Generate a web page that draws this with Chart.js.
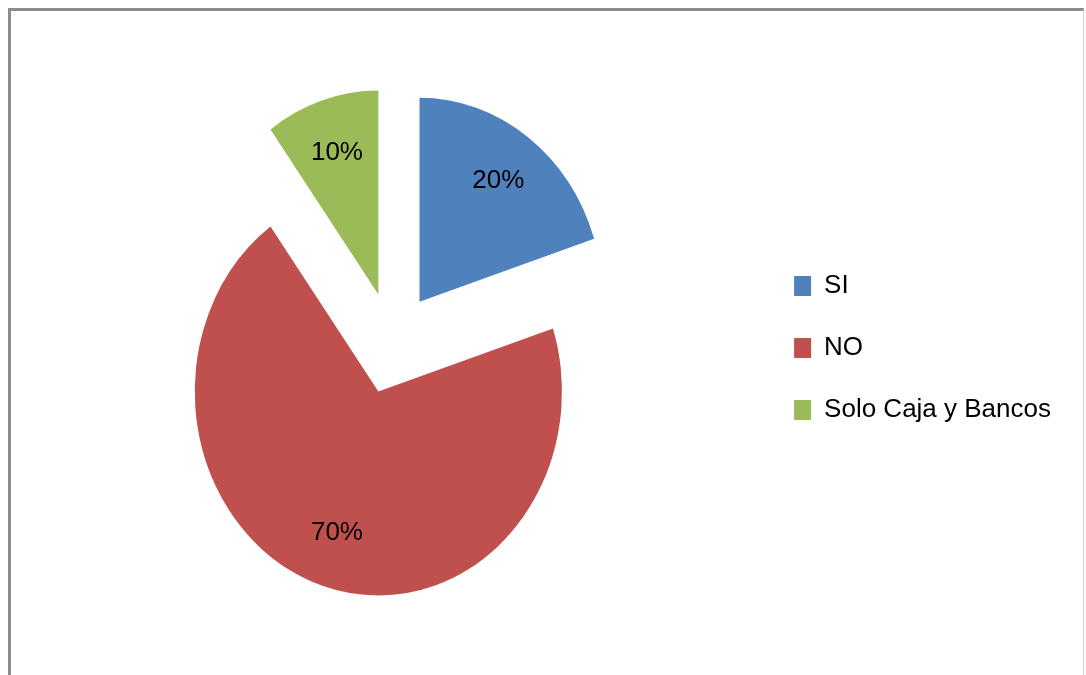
<!DOCTYPE html>
<html>
<head>
<meta charset="utf-8">
<script src="https://cdn.jsdelivr.net/npm/chart.js@4.4.1/dist/chart.umd.min.js"></script>
<style>
    html, body { margin: 0; padding: 0; background: #fff; }
    #wrap { position: relative; width: 1086px; height: 675px; overflow: hidden; }
    #frame {
        position: absolute; left: 8px; top: 8px; width: 1076px; height: 700px;
        border-left: 3px solid #8c8c8c; border-top: 3px solid #8c8c8c;
        border-right: 1px solid #cfcfcf; box-sizing: border-box;
    }
    #chart { position: absolute; left: 0; top: 0; }
</style>
</head>
<body>
<div id="wrap">
    <div id="frame"></div>
    <canvas id="chart" width="1086" height="675"></canvas>
</div>
<script>
const categories = ['SI', 'NO', 'Solo Caja y Bancos'];
const percentages = [20, 70, 10];
const sliceColors = ['#4f81bd', '#c0504d', '#9bbb59'];

// distance each slice is pulled away from the centre (px)
const explode = 51;
// the original picture is squeezed sideways a little
const squeezeX = 0.9;

// Chart.js' own offset also grows the big slice, so move whole arcs instead
const explodeSlices = {
    id: 'explodeSlices',
    beforeDatasetsDraw(chart) {
        chart.getDatasetMeta(0).data.forEach(arc => {
            if (arc._exploded) return;
            arc._exploded = true;
            const baseDraw = arc.draw;
            arc.draw = function (ctx, area) {
                const mid = (this.startAngle + this.endAngle) / 2;
                ctx.save();
                ctx.translate(this.x, this.y);
                ctx.scale(squeezeX, 1);
                ctx.translate(-this.x, -this.y);
                ctx.translate(Math.cos(mid) * explode, Math.sin(mid) * explode);
                baseDraw.call(this, ctx, area);
                ctx.restore();
            };
        });
    }
};

const sliceLabels = {
    id: 'sliceLabels',
    afterDatasetsDraw(chart) {
        const ctx = chart.ctx;
        const meta = chart.getDatasetMeta(0);
        ctx.save();
        ctx.font = '26px "Liberation Sans", Arial, sans-serif';
        ctx.fillStyle = '#000';
        ctx.textAlign = 'center';
        ctx.textBaseline = 'middle';
        meta.data.forEach((arc, i) => {
            const p = arc.getProps(['x', 'y', 'startAngle', 'endAngle', 'outerRadius'], true);
            const mid = (p.startAngle + p.endAngle) / 2;
            const r = explode + p.outerRadius * 0.73;
            ctx.fillText(percentages[i] + '%', p.x + Math.cos(mid) * r * squeezeX, p.y + Math.sin(mid) * r);
        });
        ctx.restore();
    }
};

new Chart(document.getElementById('chart'), {
    type: 'pie',
    data: {
        labels: categories,
        datasets: [{
            data: percentages,
            backgroundColor: sliceColors,
            borderWidth: 0,
            offset: 0,
            hoverOffset: 0
        }]
    },
    options: {
        responsive: false,
        animation: false,
        events: [],
        radius: 204,
        layout: { padding: { left: 27, right: 25, top: 20, bottom: 9 } },
        plugins: {
            tooltip: { enabled: false },
            legend: {
                position: 'right',
                title: { display: true, text: '', font: { size: 0 }, padding: { top: 0, bottom: 10 } },
                labels: {
                    boxWidth: 17,
                    boxHeight: 20,
                    padding: 36,
                    color: '#000',
                    font: { family: '"Liberation Sans", Arial, sans-serif', size: 26 }
                }
            }
        }
    },
    plugins: [explodeSlices, sliceLabels]
});
</script>
</body>
</html>
